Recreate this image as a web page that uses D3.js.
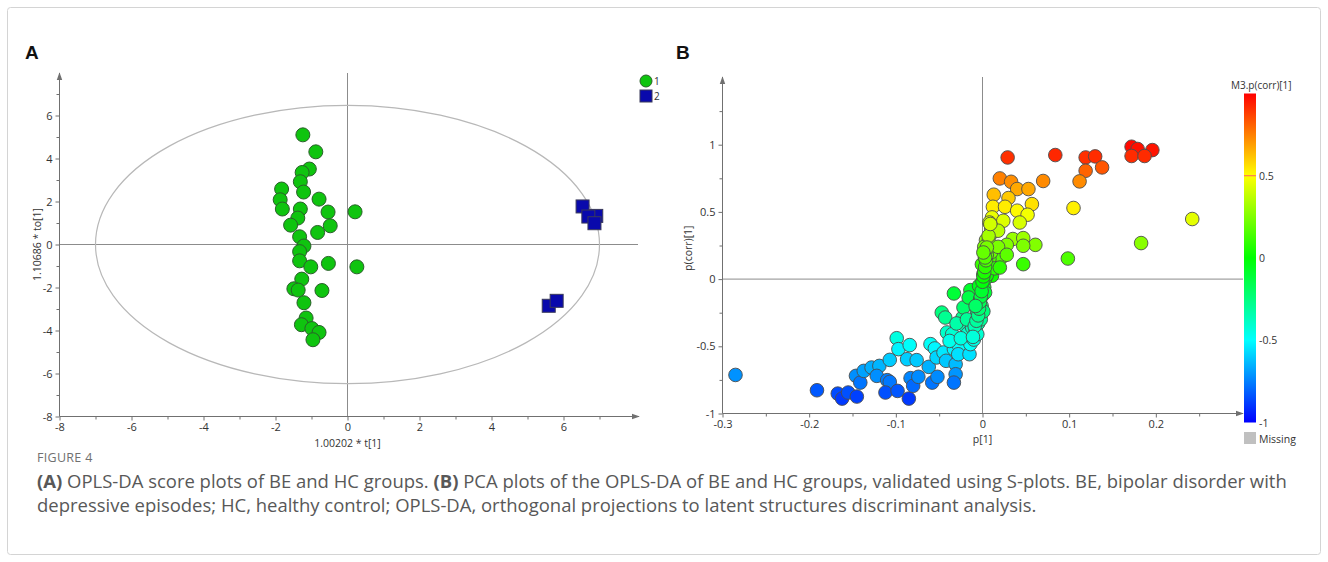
<!DOCTYPE html>
<html>
<head>
<meta charset="utf-8">
<script src="https://cdn.jsdelivr.net/npm/d3@7"></script>
<style>
  html, body { margin: 0; padding: 0; background: #fff; }
  svg { display: block; font-family: "Open Sans", "Noto Sans", sans-serif; }
</style>
</head>
<body>
<svg id="fig" width="1328" height="562"></svg>
<script>
// ---- Panel A: OPLS-DA scores ----
const groupOneT  = [-1.24,-0.88,-1.06,-1.26,-1.31,-1.83,-1.22,-1.87,-0.79,-1.81,-1.31,-0.54,0.21,-1.38,-1.58,-0.48,-0.83,-1.33,-1.21,-1.33,-1.33,-1.02,-0.53,0.26,-1.27,-1.49,-1.37,-0.71,-1.21,-1.15,-1.28,-0.99,-0.79,-0.96];
const groupOneTo = [5.10,4.31,3.51,3.35,2.92,2.58,2.44,2.08,2.11,1.65,1.65,1.51,1.52,1.23,0.90,0.87,0.56,0.36,-0.07,-0.33,-0.76,-1.04,-0.88,-1.04,-1.61,-2.06,-2.12,-2.14,-2.71,-3.42,-3.73,-3.91,-4.09,-4.43];
const groupTwoT  = [6.53, 6.91, 6.69, 6.86, 5.59, 5.81];
const groupTwoTo = [1.77, 1.33, 1.30, 0.99, -2.85, -2.62];
const groupLabels = ["1", "2"];
const scoreTicks = [-8, -6, -4, -2, 0, 2, 4, 6];
const scoreMinorTicks = [-7, -5, -3, -1, 1, 3, 5, 7];
const ellipseRadii = [7.0, 6.47];   // Hotelling T2 ellipse semi-axes (t, to)

// ---- Panel B: S-plot loadings ----
const loadingP = [
  -0.285,-0.191,-0.167,-0.162,-0.155,-0.145,-0.146,-0.141,-0.137,-0.128,-0.119,-0.122,-0.107,-0.110,-0.107,-0.112,-0.098,
  -0.099,-0.097,-0.084,-0.087,-0.076,-0.085,-0.083,-0.080,-0.074,-0.062,-0.060,-0.055,-0.058,-0.052,-0.053,-0.045,-0.042,
  -0.047,-0.043,-0.041,-0.035,-0.033,-0.033,-0.031,-0.031,-0.033,-0.027,-0.028,-0.023,-0.022,-0.020,-0.017,-0.015,-0.014,
  -0.016,-0.014,-0.012,-0.008,-0.007,-0.0065,-0.0046,-0.0027,-0.0007,0.001,0.011,-0.0007,0.003,0.018,0.022,
  -0.038,-0.025,-0.030,-0.018,-0.010,-0.005,-0.003,-0.001,0.000,0.002,0.003,0.004,0.006,0.006,0.007,0.004,0.009,0.010,0.012,
  -0.002,-0.006,0.001,0.003,0.005,0.008,-0.004,0.010,0.014,
  -0.009,-0.007,-0.005,-0.004,-0.003,-0.002,-0.001,0.000,0.001,0.002,0.003,0.004,0.005,0.006,0.007,-0.011,-0.008,0.002,
  0.029,0.084,0.119,0.130,0.119,0.138,0.112,0.172,0.179,0.196,0.172,0.187,0.020,0.033,0.040,0.053,0.070,0.013,0.030,
  0.057,0.012,0.026,0.040,0.052,0.105,0.242,0.011,0.024,0.043,0.008,0.018,0.007,0.035,0.047,0.061,0.047,0.028,0.018,
  0.183,0.0985,0.047,0.028,0.020,0.005,0.003,0.009,0.001
];
const loadingCorr = [
  -0.713,-0.827,-0.852,-0.889,-0.844,-0.874,-0.720,-0.770,-0.683,-0.658,-0.646,-0.720,-0.601,-0.752,-0.765,-0.844,-0.832,
  -0.440,-0.521,-0.491,-0.596,-0.603,-0.889,-0.737,-0.794,-0.727,-0.653,-0.484,-0.516,-0.770,-0.727,-0.583,-0.546,-0.608,
  -0.249,-0.286,-0.397,-0.410,-0.107,-0.521,-0.633,-0.708,-0.770,-0.497,-0.559,-0.286,-0.211,-0.348,-0.405,-0.559,-0.082,
  -0.137,-0.484,-0.360,-0.385,-0.286,-0.236,-0.186,-0.149,-0.037,0.037,0.025,0.110,0.160,0.099,0.161,
  -0.460,-0.440,-0.330,-0.300,-0.450,-0.330,-0.260,-0.200,-0.120,-0.060,0.000,0.060,0.120,0.200,0.260,0.290,0.330,0.380,0.440,
  -0.300,-0.410,-0.240,-0.100,0.030,0.150,-0.050,0.200,0.080,
  -0.350,-0.310,-0.270,-0.220,-0.170,-0.130,-0.090,-0.020,0.020,0.050,0.090,0.140,0.180,0.230,0.280,-0.430,-0.200,0.240,
  0.905,0.923,0.905,0.913,0.806,0.831,0.727,0.985,0.968,0.960,0.916,0.916,0.749,0.724,0.670,0.670,0.730,0.628,0.603,
  0.558,0.538,0.538,0.509,0.479,0.529,0.447,0.459,0.434,0.421,0.421,0.360,0.322,0.298,0.305,0.255,0.248,0.255,0.240,
  0.268,0.153,0.111,0.181,0.086,0.235,0.161,0.410,0.198
];
const pTicks = [-0.3, -0.2, -0.1, 0, 0.1, 0.2];
const pMinorTicks = [-0.25, -0.15, -0.05, 0.05, 0.15, 0.25];
const corrTicks = [-1, -0.5, 0, 0.5, 1];
const corrMinorTicks = [-0.75, -0.25, 0.25, 0.75, 1.25];
const colorStops = [-1, -0.5, 0, 0.5, 1];
const colorValues = ["#0000ff", "#00ffff", "#00ff00", "#ffff00", "#ff0000"];

const captionTitle = "FIGURE 4";
const captionLine1 = [
  ["(A)", true], [" OPLS-DA score plots of BE and HC groups. ", false],
  ["(B)", true], [" PCA plots of the OPLS-DA of BE and HC groups, validated using S-plots. BE, bipolar disorder with", false]
];
const captionLine2 = "depressive episodes; HC, healthy control; OPLS-DA, orthogonal projections to latent structures discriminant analysis.";

const svg = d3.select("#fig");
const AXIS = "#707070", ZERO = "#8c8c8c", TXT = "#333";

// outer frame
svg.append("rect").attr("x", 7.5).attr("y", 7.5).attr("width", 1313).attr("height", 547)
  .attr("rx", 3).attr("fill", "none").attr("stroke", "#d4d4d4");

const defs = svg.append("defs");
defs.append("marker").attr("id", "arrow").attr("viewBox", "0 0 10 10")
  .attr("refX", 9).attr("refY", 5).attr("markerWidth", 8).attr("markerHeight", 8)
  .attr("markerUnits", "userSpaceOnUse").attr("orient", "auto")
  .append("path").attr("d", "M0,1.5 L10,5 L0,8.5 Z").attr("fill", AXIS);

function styleAxis(g) {
  g.select(".domain").remove();
  g.selectAll(".tick line").attr("stroke", AXIS);
  g.selectAll(".tick text").attr("fill", TXT).attr("font-size", 11)
    .attr("font-family", "'Open Sans', sans-serif");
}

// ================= Panel A =================
const xA = d3.scaleLinear().domain([-8, 8]).range([59.5, 635.5]);
const yA = d3.scaleLinear().domain([-8, 8]).range([416.5, 72.5]);
const gA = svg.append("g");

svg.append("text").attr("x", 25).attr("y", 59).text("A")
  .attr("font-family", "'Liberation Sans', Arial, sans-serif").attr("font-weight", "bold")
  .attr("font-size", 19).attr("fill", "#111");

// zero lines
gA.append("line").attr("x1", xA(-8)).attr("x2", 638).attr("y1", yA(0)).attr("y2", yA(0))
  .attr("stroke", ZERO);
gA.append("line").attr("x1", xA(0)).attr("x2", xA(0)).attr("y1", 73).attr("y2", yA(-8))
  .attr("stroke", ZERO);

// confidence ellipse
gA.append("ellipse").attr("cx", xA(0)).attr("cy", yA(0))
  .attr("rx", xA(ellipseRadii[0]) - xA(0)).attr("ry", yA(0) - yA(ellipseRadii[1]))
  .attr("fill", "none").attr("stroke", "#b8b8b8").attr("stroke-width", 1.2);

// axes
gA.append("g").attr("transform", `translate(0,${yA(-8)})`)
  .call(d3.axisBottom(xA).tickValues(scoreTicks).tickSize(4).tickPadding(3).tickFormat(d => String(d)))
  .call(styleAxis);
gA.append("g").attr("transform", `translate(0,${yA(-8)})`)
  .call(d3.axisBottom(xA).tickValues(scoreMinorTicks).tickSize(3).tickFormat(""))
  .call(styleAxis);
gA.append("g").attr("transform", `translate(${xA(-8)},0)`)
  .call(d3.axisLeft(yA).tickValues(scoreTicks).tickSize(4).tickPadding(3).tickFormat(d => String(d)))
  .call(styleAxis);
gA.append("g").attr("transform", `translate(${xA(-8)},0)`)
  .call(d3.axisLeft(yA).tickValues(scoreMinorTicks).tickSize(3).tickFormat(""))
  .call(styleAxis);
gA.append("line").attr("x1", xA(-8)).attr("x2", 639).attr("y1", yA(-8)).attr("y2", yA(-8))
  .attr("stroke", AXIS).attr("marker-end", "url(#arrow)");
gA.append("line").attr("x1", xA(-8)).attr("x2", xA(-8)).attr("y1", yA(-8)).attr("y2", 73)
  .attr("stroke", AXIS).attr("marker-end", "url(#arrow)");

gA.append("text").attr("x", xA(0)).attr("y", 447).attr("text-anchor", "middle")
  .attr("font-size", 10.5).attr("fill", TXT).text("1.00202 * t[1]");
gA.append("text").attr("transform", `translate(41,${yA(0)}) rotate(-90)`).attr("text-anchor", "middle")
  .attr("font-size", 10.5).attr("fill", TXT).text("1.10686 * to[1]");

// group 1: circles
gA.append("g").selectAll("circle").data(d3.range(groupOneT.length)).join("circle")
  .attr("cx", i => xA(groupOneT[i])).attr("cy", i => yA(groupOneTo[i])).attr("r", 7)
  .attr("fill", "#0fc40f").attr("stroke", "#2b5f2b").attr("stroke-width", 1);

// group 2: squares
const sq = 13;
gA.append("g").selectAll("rect").data(d3.range(groupTwoT.length)).join("rect")
  .attr("x", i => xA(groupTwoT[i]) - sq / 2).attr("y", i => yA(groupTwoTo[i]) - sq / 2)
  .attr("width", sq).attr("height", sq)
  .attr("fill", "#0909ac").attr("stroke", "#3a3a5a").attr("stroke-width", 1);

// legend
const lg = gA.append("g").attr("font-size", 10).attr("fill", TXT);
lg.append("circle").attr("cx", 646).attr("cy", 81).attr("r", 6)
  .attr("fill", "#0fc40f").attr("stroke", "#2b5f2b");
lg.append("rect").attr("x", 640).attr("y", 90).attr("width", 12).attr("height", 12)
  .attr("fill", "#0909ac").attr("stroke", "#3a3a5a");
lg.append("text").attr("x", 654).attr("y", 85).text(groupLabels[0]);
lg.append("text").attr("x", 654).attr("y", 100).text(groupLabels[1]);

// ================= Panel B =================
const xB = d3.scaleLinear().domain([-0.3, 0.3]).range([722.5, 1242.5]);
const yB = d3.scaleLinear().domain([-1, 1.5]).range([413.5, 77.5]);
const color = d3.scaleLinear().domain(colorStops).range(colorValues).clamp(true);
const gB = svg.append("g");

svg.append("text").attr("x", 676).attr("y", 59).text("B")
  .attr("font-family", "'Liberation Sans', Arial, sans-serif").attr("font-weight", "bold")
  .attr("font-size", 19).attr("fill", "#111");

gB.append("line").attr("x1", xB(-0.3)).attr("x2", 1243).attr("y1", yB(0)).attr("y2", yB(0))
  .attr("stroke", ZERO);
gB.append("line").attr("x1", xB(0)).attr("x2", xB(0)).attr("y1", 77).attr("y2", yB(-1))
  .attr("stroke", ZERO);

gB.append("g").attr("transform", `translate(0,${yB(-1)})`)
  .call(d3.axisBottom(xB).tickValues(pTicks).tickSize(4).tickPadding(3).tickFormat(d => String(d)))
  .call(styleAxis);
gB.append("g").attr("transform", `translate(0,${yB(-1)})`)
  .call(d3.axisBottom(xB).tickValues(pMinorTicks).tickSize(3).tickFormat(""))
  .call(styleAxis);
gB.append("g").attr("transform", `translate(${xB(-0.3)},0)`)
  .call(d3.axisLeft(yB).tickValues(corrTicks).tickSize(4).tickPadding(3).tickFormat(d => String(d)))
  .call(styleAxis);
gB.append("g").attr("transform", `translate(${xB(-0.3)},0)`)
  .call(d3.axisLeft(yB).tickValues(corrMinorTicks).tickSize(3).tickFormat(""))
  .call(styleAxis);
gB.append("line").attr("x1", xB(-0.3)).attr("x2", 1243).attr("y1", yB(-1)).attr("y2", yB(-1))
  .attr("stroke", AXIS).attr("marker-end", "url(#arrow)");
gB.append("line").attr("x1", xB(-0.3)).attr("x2", xB(-0.3)).attr("y1", yB(-1)).attr("y2", 77)
  .attr("stroke", AXIS).attr("marker-end", "url(#arrow)");

gB.append("text").attr("x", xB(0)).attr("y", 443).attr("text-anchor", "middle")
  .attr("font-size", 10.5).attr("fill", TXT).text("p[1]");
gB.append("text").attr("transform", `translate(692,${yB(0.23)}) rotate(-90)`).attr("text-anchor", "middle")
  .attr("font-size", 10.5).attr("fill", TXT).text("p(corr)[1]");

gB.append("g").selectAll("circle").data(d3.range(loadingP.length)).join("circle")
  .attr("cx", i => xB(loadingP[i])).attr("cy", i => yB(loadingCorr[i])).attr("r", 6.8)
  .attr("fill", i => color(loadingCorr[i]))
  .attr("stroke", "#4d4d4d").attr("stroke-width", 0.9);

// colour bar
const yC = d3.scaleLinear().domain([-1, 1]).range([422.5, 93.5]);
const grad = defs.append("linearGradient").attr("id", "corrGrad")
  .attr("x1", 0).attr("y1", 1).attr("x2", 0).attr("y2", 0);
grad.selectAll("stop").data(colorStops).join("stop")
  .attr("offset", d => (d + 1) / 2).attr("stop-color", (d, i) => colorValues[i]);
const cb = svg.append("g");
cb.append("rect").attr("x", 1244).attr("y", yC(1)).attr("width", 12).attr("height", yC(-1) - yC(1))
  .attr("fill", "url(#corrGrad)");
cb.append("line").attr("x1", 1244).attr("x2", 1256).attr("y1", yC(0.5)).attr("y2", yC(0.5))
  .attr("stroke", "#ff6060").attr("stroke-width", 1);
cb.selectAll("text.lab").data(corrTicks.filter(d => d < 1)).join("text").attr("class", "lab")
  .attr("x", 1259).attr("y", d => yC(d) + 4).attr("font-size", 10.5).attr("fill", TXT)
  .text(d => String(d));
cb.append("text").attr("x", 1231).attr("y", 89).attr("font-size", 10).attr("fill", TXT)
  .text("M3.p(corr)[1]");
cb.append("rect").attr("x", 1244).attr("y", 432).attr("width", 12).attr("height", 12).attr("fill", "#c0c0c0");
cb.append("text").attr("x", 1259).attr("y", 443).attr("font-size", 10.5).attr("fill", TXT).text("Missing");

// ================= Caption =================
svg.append("text").attr("x", 37).attr("y", 462).attr("font-size", 12.5).attr("fill", "#707070")
  .attr("letter-spacing", 0.3).text(captionTitle);

const capColor = "#585858";
// first line: measure each run at a base size, then scale to the column width
const baseSize = 16;
const runs = captionLine1.map(([txt, bold]) =>
  svg.append("text").attr("y", 488).attr("font-size", baseSize).attr("fill", capColor)
    .attr("font-weight", bold ? "bold" : "normal").attr("xml:space", "preserve")
    .style("white-space", "pre").text(txt));
const total = runs.reduce((s, r) => s + r.node().getComputedTextLength(), 0);
const fs = baseSize * 1251 / total;
let cx = 37;
runs.forEach(r => {
  r.attr("font-size", fs).attr("x", cx);
  cx += r.node().getComputedTextLength();
});
svg.append("text").attr("x", 37).attr("y", 512).attr("font-size", fs).attr("fill", capColor)
  .text(captionLine2);
</script>
</body>
</html>
